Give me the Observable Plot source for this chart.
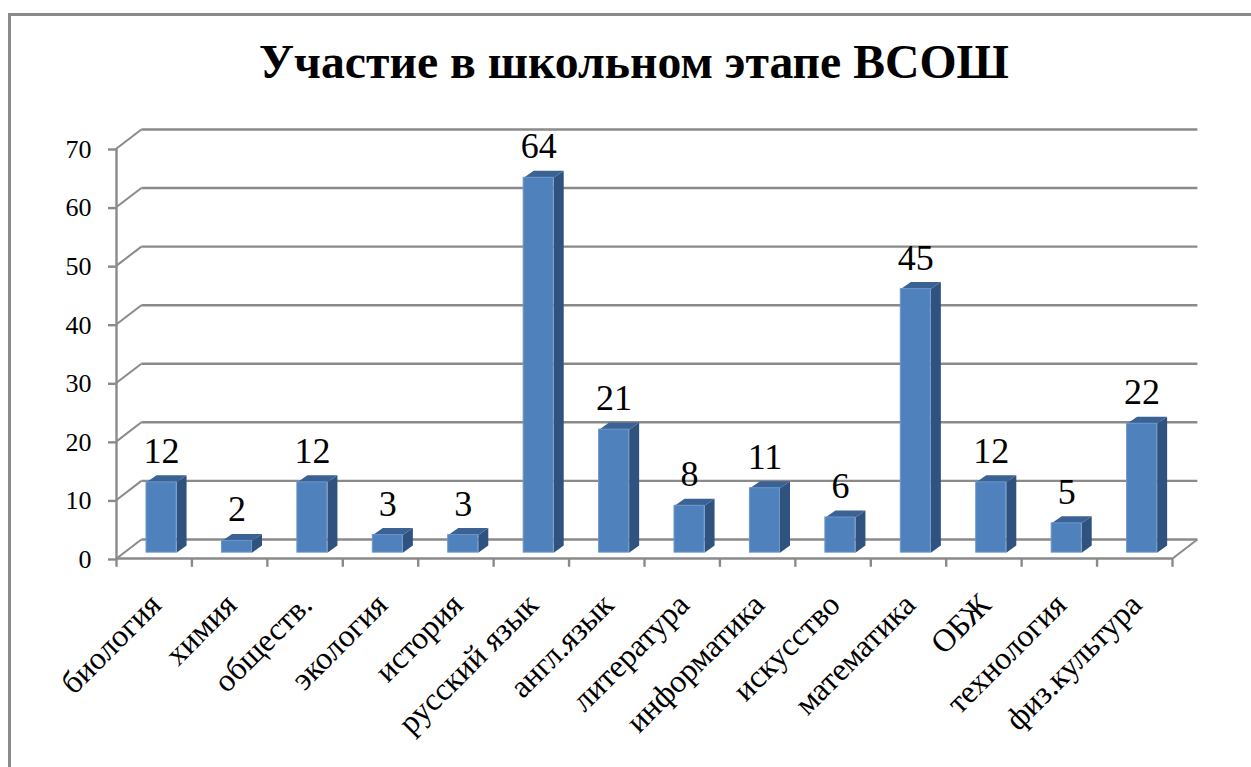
<!DOCTYPE html>
<html lang="ru">
<head>
<meta charset="utf-8">
<script src="https://cdn.jsdelivr.net/npm/d3@7"></script>
<script src="https://cdn.jsdelivr.net/npm/@observablehq/plot@0.6"></script>
<style>
html,body{margin:0;padding:0;background:#fff;overflow:hidden}
#wrap{position:relative;width:1251px;height:767px;overflow:hidden}
#frame{position:absolute;left:8px;top:13px;width:1300px;height:900px;border:3px solid #8a8a8a;box-sizing:border-box}
#title{position:absolute;left:0;top:30px;width:1268px;text-align:center;font:bold 47.7px "Liberation Serif";color:#000;line-height:64px}
#chart{position:absolute;left:0;top:0}
</style>
</head>
<body>
<div id="wrap"><div id="frame"></div><div id="title">Участие в школьном этапе ВСОШ</div><div id="chart"></div></div>
<script>
const categories = ["биология","химия","обществ.","экология","история","русский язык","англ.язык","литература","информатика","искусство","математика","ОБЖ","технология","физ.культура"];
const values = [12,2,12,3,3,64,21,8,11,6,45,12,5,22];
const gridValues = [0,10,20,30,40,50,60,70];

const dxWall = 0.33, dyWall = 3.25;       // depth of the chart box, in data units
const lift = 1, left = 0.398, right = 0.796;  // bar placement within the box
const dxBar = 0.133, dyBar = 1.2;         // depth of one bar

const rows = categories.map((c, i) => ({c, i, v: values[i]}));
const poly = (fn) => rows.flatMap((d) => fn(d).map(([x, y]) => ({x, y, z: d.c})));
const sideFaces = poly((d) => [[d.i+right,lift],[d.i+right+dxBar,lift+dyBar],[d.i+right+dxBar,d.v+lift+dyBar],[d.i+right,d.v+lift]]);
const topFaces = poly((d) => [[d.i+left,d.v+lift],[d.i+left+dxBar,d.v+lift+dyBar],[d.i+right+dxBar,d.v+lift+dyBar],[d.i+right,d.v+lift]]);
const grey = "#8a8a8a";

const plot = Plot.plot({
  width: 1251, height: 767,
  marginLeft: 116, marginRight: 79, marginTop: 148, marginBottom: 209,
  style: {background: "transparent", overflow: "visible"},
  x: {domain: [0, 14], axis: null},
  y: {domain: [0, 70], axis: null},
  marks: [
    // back wall and left-wall diagonals
    Plot.link(gridValues, {x1: dxWall, x2: 14 + dxWall, y1: (v) => v + dyWall, y2: (v) => v + dyWall, stroke: grey, strokeWidth: 2.4}),
    Plot.link(gridValues, {x1: 0, x2: dxWall, y1: (v) => v, y2: (v) => v + dyWall, stroke: grey, strokeWidth: 2}),
    // floor and axes
    Plot.link([0], {x1: 14, x2: 14 + dxWall, y1: 0, y2: dyWall, stroke: grey, strokeWidth: 2}),
    Plot.ruleY([0], {x1: 0, x2: 14, stroke: grey, strokeWidth: 2.4}),
    Plot.ruleX([0], {y1: 0, y2: 70, stroke: grey, strokeWidth: 2.4}),
    Plot.ruleX(d3.range(0, 15), {y1: 0, y2: -1.5, stroke: grey, strokeWidth: 2.4}),
    Plot.axisY({ticks: gridValues, tickSize: 8, tickPadding: 17, textStroke: "none", stroke: grey, strokeWidth: 2.4, fontSize: 26, fontFamily: "Liberation Serif", fill: "#000", label: null, tickFormat: (d) => d, dy: 1}),
    // bars
    Plot.line(sideFaces, {x: "x", y: "y", z: "z", fill: "#30527e", stroke: "none"}),
    Plot.line(topFaces, {x: "x", y: "y", z: "z", fill: "#3a6294", stroke: "none"}),
    Plot.rect(rows, {x1: (d) => d.i + left, x2: (d) => d.i + right, y1: lift, y2: (d) => d.v + lift, fill: "#4f81bd", stroke: "#6d97ca", strokeWidth: 1}),
    // labels
    Plot.text(rows, {x: (d) => d.i + (left + right) / 2, y: (d) => d.v + lift, text: (d) => String(d.v), dy: -31, fontSize: 36, fontFamily: "Liberation Serif", fill: "#000"}),
    Plot.text(rows, {x: (d) => d.i + 0.52, y: -7, text: "c", rotate: -45, textAnchor: "end", fontSize: 32, fontFamily: "Liberation Serif", fill: "#000"})
  ]
});
document.getElementById("chart").appendChild(plot);
</script>
</body>
</html>
